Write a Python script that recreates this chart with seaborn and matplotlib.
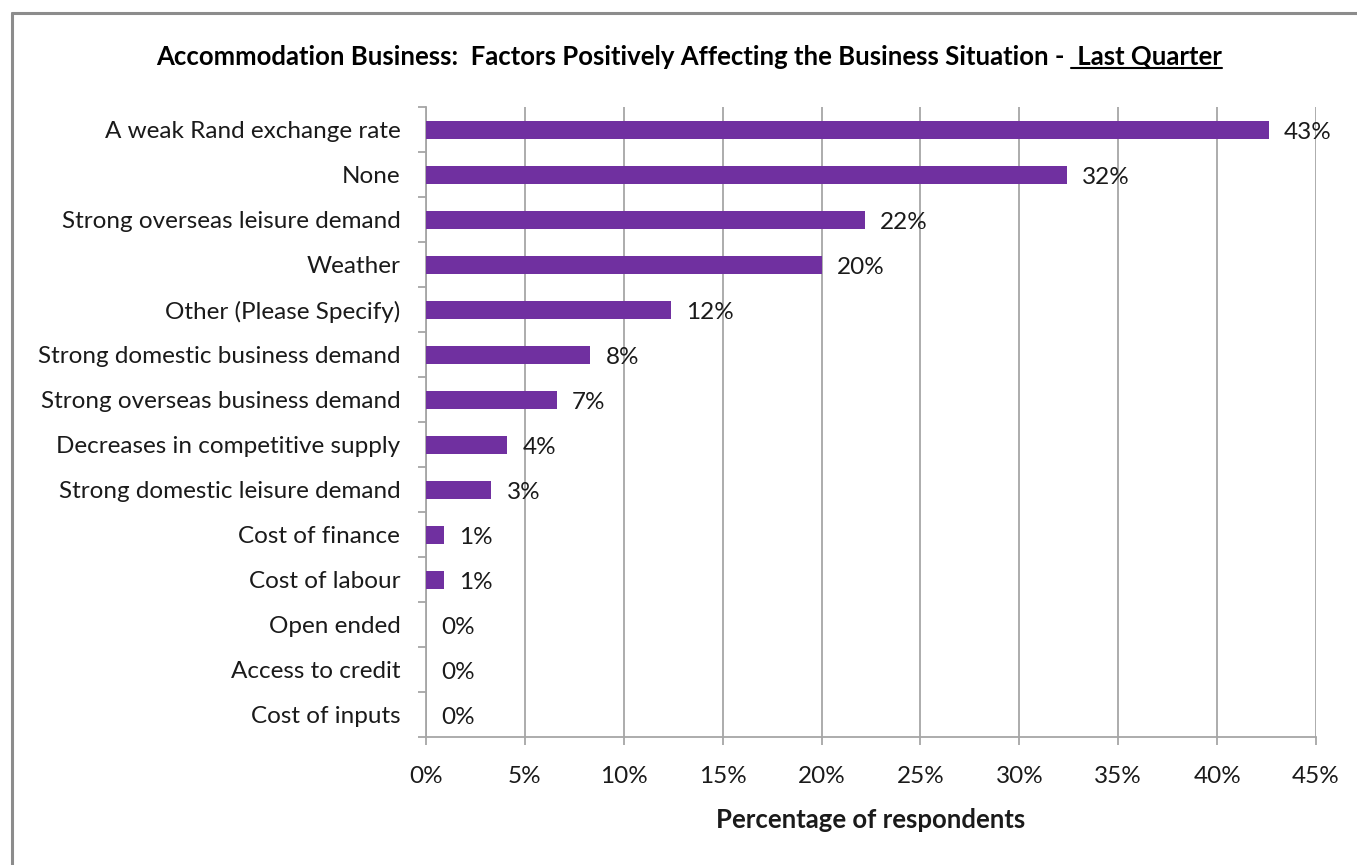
import matplotlib
matplotlib.use("Agg")
import matplotlib.pyplot as plt
from matplotlib.lines import Line2D
from matplotlib.ticker import FixedLocator, PercentFormatter
import seaborn as sns
import pandas as pd

# Survey responses: share of respondents citing each factor
factors = [
    "A weak Rand exchange rate",
    "None",
    "Strong overseas leisure demand",
    "Weather",
    "Other (Please Specify)",
    "Strong domestic business demand",
    "Strong overseas business demand",
    "Decreases in competitive supply",
    "Strong domestic leisure demand",
    "Cost of finance",
    "Cost of labour",
    "Open ended",
    "Access to credit",
    "Cost of inputs",
]
shares = [42.6, 32.4, 22.2, 20.0, 12.4, 8.3, 6.6, 4.1, 3.3, 0.9, 0.9, 0.0, 0.0, 0.0]
x_ticks = [0, 5, 10, 15, 20, 25, 30, 35, 40, 45]

title_main = "Accommodation Business:  Factors Positively Affecting the Business Situation - "
title_tail = " Last Quarter"
x_title = "Percentage of respondents"

BAR = "#7030A0"
GRID = "#A6A6A6"
TEXT = "#1A1A1A"
FONT = "Lato"
FS = 17.5

sns.set_theme(style="white")
plt.rcParams["font.family"] = [FONT, "DejaVu Sans"]

df = pd.DataFrame({"factor": factors, "share": shares})

W, H = 1357, 865
fig = plt.figure(figsize=(W / 100, H / 100), dpi=100)
ax = fig.add_axes([426 / W, 1 - 737 / H, (1316 - 426) / W, (737 - 107) / H])

sns.barplot(data=df, x="share", y="factor", orient="h", color=BAR,
            width=0.4, saturation=1, linewidth=0, ax=ax, zorder=3)

ax.set_xlim(0, 45)
ax.set_ylim(len(factors) - 0.5, -0.5)
ax.xaxis.set_major_locator(FixedLocator(x_ticks))
ax.xaxis.set_major_formatter(PercentFormatter(decimals=0))
ax.grid(axis="x", color=GRID, linewidth=1.3, zorder=0)
ax.set_axisbelow(True)

for s in ["top", "right"]:
    ax.spines[s].set_visible(False)
for s in ["left", "bottom"]:
    ax.spines[s].set_color(GRID)
    ax.spines[s].set_linewidth(1.3)

# category separators as outward ticks on the y axis
ax.yaxis.set_minor_locator(FixedLocator([i - 0.5 for i in range(len(factors) + 1)]))
ax.tick_params(axis="y", which="major", length=0, pad=18.5, labelsize=FS, labelcolor=TEXT)
ax.tick_params(axis="y", which="minor", left=True, length=6, width=1.3, color=GRID)
ax.tick_params(axis="x", which="major", bottom=True, length=6, width=1.3, color=GRID,
               pad=15, labelsize=FS, labelcolor=TEXT)

ax.set_ylabel("")
ax.set_xlabel(x_title, fontsize=18.5, fontweight="bold", color=TEXT, labelpad=15)

# value labels at the end of each bar
for i, v in enumerate(shares):
    ax.annotate(f"{v:.0f}%", xy=(v, i), xytext=(11, -2.5), textcoords="offset points",
                ha="left", va="center", fontsize=FS, color=TEXT)

# title with underlined tail
fig.canvas.draw()
renderer = fig.canvas.get_renderer()
ty = 1 - 57 / H
t1 = fig.text(0, ty, title_main, fontsize=18.5, fontweight="bold", color="black",
              va="center", ha="left")
t2 = fig.text(0, ty, title_tail, fontsize=18.5, fontweight="bold", color="black",
              va="center", ha="left")
b1 = t1.get_window_extent(renderer)
b2 = t2.get_window_extent(renderer)
total = b1.width + b2.width
x0 = 689 - total / 2
t1.set_x(x0 / W)
t2.set_x((x0 + b1.width) / W)
b2 = t2.get_window_extent(renderer)
uy = (b2.y0 + 1) / H
fig.add_artist(Line2D([b2.x0 / W, b2.x1 / W], [uy, uy], color="black", linewidth=1.5))

# chart frame (top and left edges visible)
frame = "#8C8C8C"
fig.add_artist(Line2D([12 / W, 1.0], [1 - 13 / H, 1 - 13 / H], color=frame, linewidth=2.2))
fig.add_artist(Line2D([12 / W, 12 / W], [0, 1 - 13 / H], color=frame, linewidth=2.2))

fig.savefig("out.png", dpi=100, facecolor="white")
